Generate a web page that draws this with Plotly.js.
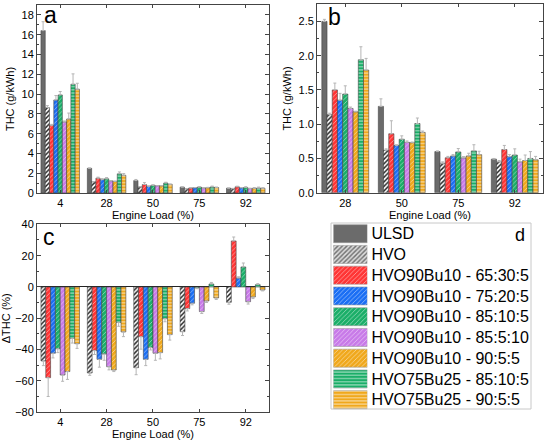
<!DOCTYPE html>
<html><head><meta charset="utf-8">
<script src="https://cdn.plot.ly/plotly-3.0.1.min.js"></script>
<style>html,body{margin:0;padding:0;background:#fff}#chart{width:550px;height:442px}</style>
</head><body><div id="chart"></div>
<script>
// ---- data ----
const loads = ['4','28','50','75','92'];
const seriesNames = ['ULSD','HVO','HVO90Bu10 - 65:30:5','HVO90Bu10 - 75:20:5','HVO90Bu10 - 85:10:5','HVO90Bu10 - 85:5:10','HVO90Bu10 - 90:5:5','HVO75Bu25 - 85:10:5','HVO75Bu25 - 90:5:5'];
// THC (g/kWh) at each load
const thcULSD   = [16.41, 2.50, 1.26, 0.60, 0.49];
const thcHVO    = [8.63, 1.14, 0.62, 0.43, 0.45];
const thc653005 = [6.84, 1.50, 0.86, 0.51, 0.63];
const thc752005 = [9.40, 1.35, 0.69, 0.536, 0.526];
const thc851005 = [9.91, 1.44, 0.78, 0.595, 0.55];
const thc850510 = [7.18, 1.23, 0.735, 0.507, 0.45];
const thc900505 = [7.48, 1.18, 0.73, 0.536, 0.47];
const thcBu25_851005 = [10.99, 1.94, 1.01, 0.61, 0.50];
const thcBu25_900505 = [10.49, 1.79, 0.88, 0.555, 0.48];
// THC error (g/kWh)
const errULSD   = [0.9, 0.03, 0.11, 0.01, 0.01];
const errHVO    = [0.2, 0.02, 0.02, 0.02, 0.02];
const err653005 = [0.1, 0.10, 0.19, 0.02, 0.06];
const err752005 = [0.45, 0.10, 0.01, 0.02, 0.03];
const err851005 = [0.35, 0.12, 0.05, 0.05, 0.09];
const err850510 = [0.1, 0.02, 0.02, 0.02, 0.04];
const err900505 = [0.6, 0.01, 0.01, 0.04, 0.08];
const errBu25_851005 = [1.05, 0.19, 0.08, 0.09, 0.10];
const errBu25_900505 = [0.6, 0.17, 0.02, 0.05, 0.05];
// Delta THC (%) relative to ULSD
const dHVO    = [-47.2, -54.9, -51.5, -28.5, -9.8];
const d653005 = [-57.9, -40.6, -31.7, -13.8, 29.4];
const d752005 = [-42.3, -46.2, -46.2, -10.4, 5.7];
const d851005 = [-39.4, -42.8, -38.7, -0.6, 12.8];
const d850510 = [-56.2, -50.9, -42.3, -15.7, -9.4];
const d900505 = [-54.0, -53.0, -41.9, -8.9, -6.4];
const dBu25_851005 = [-32.8, -22.6, -20.2, 1.9, 1.5];
const dBu25_900505 = [-36.2, -28.7, -30.4, -7.0, -1.9];
// Delta THC error (%)
const edHVO    = [3, 1.5, 4.5, 2.5, 1.2];
const ed653005 = [12, 2.5, 8, 1.5, 2.5];
const ed752005 = [3, 5, 4, 1, 0.8];
const ed851005 = [2.5, 4, 1.5, 0.5, 2.5];
const ed850510 = [4, 2, 4.5, 1.2, 1.5];
const ed900505 = [5, 1, 4, 1, 1];
const edBu25_851005 = [3, 2.5, 2, 1, 0.6];
const edBu25_900505 = [3, 3, 3.5, 1, 0.6];

const thcAll = [thcULSD, thcHVO, thc653005, thc752005, thc851005, thc850510, thc900505, thcBu25_851005, thcBu25_900505];
const errAll = [errULSD, errHVO, err653005, err752005, err851005, err850510, err900505, errBu25_851005, errBu25_900505];
const dAll = [null, dHVO, d653005, d752005, d851005, d850510, d900505, dBu25_851005, dBu25_900505];
const edAll = [null, edHVO, ed653005, ed752005, ed851005, ed850510, ed900505, edBu25_851005, edBu25_900505];

// ---- styles ----
const bgCols = ['#6b6b6b','#ffffff','#ff3434','#1a6ef4','#1aae68','#c87ae8','#f0a81c','#1aae68','#f0a81c'];
const fgCols = ['#6b6b6b','#1e1e1e','#ffffff','#ffffff','#ffffff','#ffffff','#ffffff','#ffffff','#ffffff'];
const shapes = ['','/','/','/','/','/','/','-','-'];
const solid  = [1, 0.45, 0.14, 0.14, 0.14, 0.14, 0.14, 0.2, 0.2];

function marker(i, legendSwatch){
  let bg = bgCols[i], fg = fgCols[i];
  if(legendSwatch && i===1){ bg = '#dcdcdc'; fg = '#707070'; }
  return {color: bg, line:{color: legendSwatch ? '#9a9a9a' : '#444', width:0.6},
    pattern: shapes[i] ? {shape:shapes[i], bgcolor:bg, fgcolor:fg, size:3.2, solidity:solid[i], fillmode:'replace'} : {shape:''}};
}
const ebStyle = {color:'#b5b5b5', thickness:1, width:1.5};

const traces = [];
for(let i=0;i<9;i++){
  traces.push({type:'bar', x:loads, y:thcAll[i], xaxis:'x', yaxis:'y', name:seriesNames[i], showlegend:false,
    marker:marker(i),
    error_y:Object.assign({type:'data', symmetric:false, array:errAll[i], arrayminus:errAll[i].map(()=>0)}, ebStyle)});
}
for(let i=0;i<9;i++){
  traces.push({type:'bar', x:loads.slice(1), y:thcAll[i].slice(1), xaxis:'x2', yaxis:'y2', name:seriesNames[i], showlegend:false,
    marker:marker(i),
    error_y:Object.assign({type:'data', symmetric:false, array:errAll[i].slice(1), arrayminus:errAll[i].slice(1).map(()=>0)}, ebStyle)});
}
for(let i=1;i<9;i++){
  const v = dAll[i], e = edAll[i];
  traces.push({type:'bar', x:loads, y:v, xaxis:'x3', yaxis:'y3', name:seriesNames[i], showlegend:false,
    marker:marker(i),
    error_y:Object.assign({type:'data', symmetric:false, array:v.map((d,k)=>d>=0?e[k]:0), arrayminus:v.map((d,k)=>d<0?e[k]:0)}, ebStyle)});
}
// legend swatches (one bar per series)
for(let i=0;i<9;i++){
  traces.push({type:'bar', orientation:'h', y:[seriesNames[i]], x:[1], xaxis:'x4', yaxis:'y4', showlegend:false,
    width:0.87, offset:-0.435, marker:marker(i, true)});
}

const F = 'Arial, "Liberation Sans", sans-serif';
function xax(domain, anchor){
  return {domain:domain, anchor:anchor, type:'category', showline:true, linecolor:'#444', linewidth:1, mirror:'ticks',
    ticks:'inside', ticklen:3, tickcolor:'#444', showgrid:false,
    title:{text:'Engine Load (%)', font:{size:11}, standoff:2}, tickfont:{size:11}};
}
function yax(domain, anchor, range, dtick, title, minor, fmt){
  return {domain:domain, anchor:anchor, range:range, dtick:dtick, showline:true, linecolor:'#444', linewidth:1, mirror:'ticks',
    ticks:'inside', ticklen:4, tickcolor:'#444', showgrid:false, zeroline:false, tickformat:fmt||'',
    minor:{dtick:minor, ticks:'inside', ticklen:2, tickcolor:'#444'},
    title:{text:title, font:{size:11}, standoff:4}, tickfont:{size:11}};
}
const layout = {
  width:550, height:442, margin:{l:0,r:0,t:0,b:0}, paper_bgcolor:'#fff', plot_bgcolor:'#fff',
  font:{family:F, size:11, color:'#000'}, barmode:'group', bargap:0.17, bargroupgap:0,
  xaxis: xax([0.0673,0.489],'y'),
  yaxis: yax([0.5633,0.9887],'x',[0,19],2,'THC (g/kWh)',1),
  xaxis2: xax([0.5764,0.9873],'y2'),
  yaxis2: yax([0.5640,0.9903],'x2',[0,2.75],0.5,'THC (g/kWh)',0.25,'.1f'),
  xaxis3: xax([0.0673,0.489],'y3'),
  yaxis3: Object.assign(yax([0.0672,0.4925],'x3',[-80,40],20,'ΔTHC (%)',10), {zeroline:true, zerolinecolor:'#222', zerolinewidth:1}),
  xaxis4: {domain:[0.606,0.668], anchor:'y4', range:[0,1], visible:false, fixedrange:true},
  yaxis4: {domain:[0.0722,0.4948], anchor:'x4', side:'right', autorange:'reversed', type:'category', showline:false, ticks:'',
    showgrid:false, zeroline:false, tickfont:{size:16, color:'#000'}, ticklabelstandoff:3},
  shapes:[{type:'rect', xref:'paper', yref:'paper', x0:331/550, x1:531/550, y0:(442-409)/442, y1:(442-223)/442,
    line:{color:'#c8c8c8', width:1}, fillcolor:'rgba(0,0,0,0)'}],
  annotations:[
    {text:'a', xref:'paper', yref:'paper', x:42/550, y:1-15/442, xanchor:'left', yanchor:'middle', showarrow:false, font:{size:23}},
    {text:'b', xref:'paper', yref:'paper', x:326/550, y:1-17/442, xanchor:'left', yanchor:'middle', showarrow:false, font:{size:23}},
    {text:'c', xref:'paper', yref:'paper', x:41/550, y:1-237/442, xanchor:'left', yanchor:'middle', showarrow:false, font:{size:23}},
    {text:'d', xref:'paper', yref:'paper', x:527/550, y:1-235/442, xanchor:'right', yanchor:'middle', showarrow:false, font:{size:18}}
  ]
};
Plotly.newPlot('chart', traces, layout, {staticPlot:true, displayModeBar:false});
</script></body></html>
